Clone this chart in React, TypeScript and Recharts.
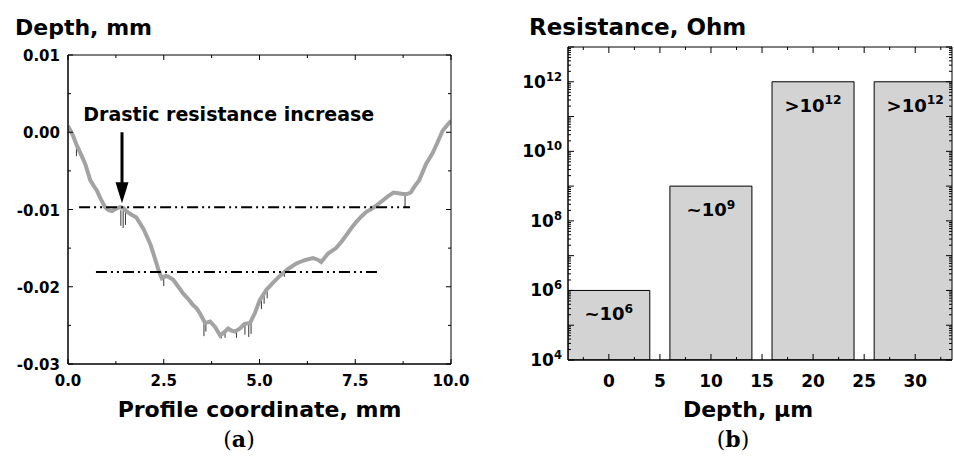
import React from 'react'
import {
  ComposedChart, Line, XAxis, YAxis, ReferenceLine, ReferenceDot, Bar, LabelList,
} from 'recharts'

// (a) surface profile (mm)
const profileX = [
  0, 0.12, 0.23, 0.35, 0.45, 0.58, 0.68, 0.76, 0.86, 0.97, 1.06, 1.15, 1.25, 1.36, 1.45,
  1.54, 1.67, 1.78, 1.88, 1.98, 2.06, 2.15, 2.23, 2.3, 2.36, 2.45, 2.55, 2.62, 2.75, 2.88,
  3.01, 3.14, 3.27, 3.36, 3.45, 3.58, 3.71, 3.84, 3.97, 4.05, 4.18, 4.28, 4.36, 4.49, 4.61,
  4.75, 4.88, 5.01, 5.18, 5.35, 5.53, 5.74, 5.96, 6.1, 6.22, 6.4, 6.52, 6.61, 6.79, 7.0,
  7.15, 7.27, 7.4, 7.53, 7.66, 7.79, 7.93, 8.05, 8.2, 8.35, 8.5, 8.62, 8.74, 8.85, 8.95,
  9.05, 9.17, 9.35, 9.52, 9.65, 9.78, 9.9, 10.0,
]
const profileDepth = [
  0.0008, -0.0003, -0.0017, -0.003, -0.0041, -0.0062, -0.007, -0.0076, -0.0087, -0.0097, -0.0101, -0.0102, -0.0099, -0.0097, -0.0098,
  -0.0103, -0.0107, -0.011, -0.0118, -0.0126, -0.0135, -0.0145, -0.0157, -0.0168, -0.0178, -0.0189, -0.0186, -0.0187, -0.0191, -0.02,
  -0.0209, -0.0216, -0.0224, -0.0228, -0.0235, -0.0247, -0.0245, -0.0252, -0.0263, -0.026, -0.0254, -0.0257, -0.0258, -0.0254, -0.0248,
  -0.0247, -0.0234, -0.0217, -0.0204, -0.0195, -0.0186, -0.0177, -0.017, -0.0167, -0.0165, -0.0163, -0.0165, -0.0168, -0.0157, -0.015,
  -0.0141, -0.0133, -0.0124, -0.0116, -0.0109, -0.0103, -0.0099, -0.0095, -0.0089, -0.0083, -0.0078, -0.0079, -0.008, -0.008, -0.0078,
  -0.007, -0.0062, -0.0041, -0.0027, -0.0013, 0.0002, 0.0009, 0.0015,
]

// raw-signal dropouts under the smoothed curve
const spikeX = [0.22, 1.38, 1.44, 1.5, 2.5, 3.2, 3.55, 3.6, 4.0, 4.1, 4.4, 4.62, 4.72, 4.78, 5.05, 5.12, 5.2, 5.65, 8.8]
const spikeTop = [-0.0016, -0.0101, -0.0101, -0.0103, -0.0188, -0.0216, -0.0244, -0.0245, -0.0262, -0.0259, -0.0257, -0.0248, -0.0247, -0.0246, -0.0213, -0.0208, -0.0203, -0.0181, -0.0081]
const spikeBottom = [-0.0031, -0.0121, -0.0124, -0.012, -0.0199, -0.0223, -0.0264, -0.0258, -0.0267, -0.0266, -0.0266, -0.0262, -0.0265, -0.0261, -0.0229, -0.0222, -0.0215, -0.0187, -0.0097]

const levelDepth = [-0.0097, -0.0181]
const levelFrom = [0.29, 0.73]
const levelTo = [8.93, 8.11]

const arrowX = 1.41
const arrowFrom = 0.0
const arrowTo = -0.0092
const noteX = 0.4
const noteY = 0.0015
const noteText = 'Drastic resistance increase'

const coordTicks = [0, 1.25, 2.5, 3.75, 5, 6.25, 7.5, 8.75, 10]
const depthMmTicks = [-0.03, -0.025, -0.02, -0.015, -0.01, -0.005, 0, 0.005, 0.01]

// (b) resistance vs depth
const barDepth = [0, 10, 20, 30]
const barResistance = [1e6, 1e9, 1e12, 1e12]
const barPrefix = ['~', '~', '>', '>']
const barExponent = ['6', '9', '12', '12']

const depthUmTicks = [-2.5, 0, 2.5, 5, 7.5, 10, 12.5, 15, 17.5, 20, 22.5, 25, 27.5, 30, 32.5]
const decadeExponents = [4, 5, 6, 7, 8, 9, 10, 11, 12, 13]

const profileRows = profileX.map((x, i) => ({ x, y: profileDepth[i] }))
const barRows = barDepth.map((d, i) => ({ depth: d, r: barResistance[i] }))

const resistanceTicks: number[] = []
decadeExponents.forEach((e) => {
  resistanceTicks.push(10 ** e)
  if (e < 13) for (let m = 2; m <= 9; m++) resistanceTicks.push(m * 10 ** e)
})

const SANS = '"DejaVu Sans", Arial, sans-serif'
const SERIF = '"DejaVu Serif", serif'

const isMultiple = (v: number, step: number) => Math.abs(v / step - Math.round(v / step)) < 1e-6
const isDecade = (v: number) => isMultiple(Math.log10(v), 1)

type Side = 'top' | 'bottom' | 'left' | 'right'

function makeTick(side: Side, lenOf: (v: number) => number, labelOf?: (x: number, y: number, v: number) => React.ReactNode) {
  return (props: any) => {
    const { x, y, payload } = props
    const v = payload.value
    const len = lenOf(v)
    const dx = side === 'left' ? len : side === 'right' ? -len : 0
    const dy = side === 'bottom' ? -len : side === 'top' ? len : 0
    return (
      <g>
        <line x1={x} y1={y} x2={x + dx} y2={y + dy} stroke="#000" strokeWidth={1} />
        {labelOf ? labelOf(x, y, v) : null}
      </g>
    )
  }
}

function Power({ x, y, prefix = '', exp, size, anchor }: any) {
  return (
    <text x={x} y={y} textAnchor={anchor} fontFamily={SANS} fontWeight="bold" fontSize={size} fill="#000">
      {prefix}10
      <tspan dy={-size * 0.42} fontSize={size * 0.68}>{exp}</tspan>
    </text>
  )
}

const axisLine = { stroke: '#000', strokeWidth: 1.5 }
const frameLine = { stroke: '#000', strokeWidth: 1 }

const Arrow = (p: any) => {
  const { x1, y1, x2, y2 } = p
  const head = 21
  return (
    <g>
      <line x1={x1} y1={y1} x2={x2} y2={y2 - head + 2} stroke="#000" strokeWidth={3} />
      <polygon points={`${x2},${y2} ${x2 - 6.5},${y2 - head} ${x2 + 6.5},${y2 - head}`} fill="#000" />
    </g>
  )
}

function ProfileChart() {
  const coordLen = (v: number) => (isMultiple(v, 2.5) ? 5 : 3)
  const depthLen = (v: number) => (isMultiple(v, 0.01) ? 5 : 3)
  return (
    <ComposedChart width={470} height={461} data={profileRows} margin={{ top: 54, right: 18, bottom: 67, left: 8 }}>
      <XAxis
        xAxisId="x" dataKey="x" type="number" domain={[0, 10]} ticks={coordTicks} interval={0}
        allowDataOverflow height={30} tickSize={0} tickMargin={0} tickLine={false} axisLine={axisLine}
        tick={makeTick('bottom', coordLen, (x, y, v) =>
          isMultiple(v, 2.5) ? (
            <text x={x} y={y + 22} textAnchor="middle" fontFamily={SANS} fontWeight="bold" fontSize={15}>{v.toFixed(1)}</text>
          ) : null)}
        label={{
          content: (p: any) => (
            <text x={p.viewBox.x + p.viewBox.width / 2} y={p.viewBox.y + 53} textAnchor="middle" fontFamily={SANS} fontWeight="bold" fontSize={22}>
              Profile coordinate, mm
            </text>
          ),
        }}
      />
      <XAxis
        xAxisId="xt" dataKey="x" orientation="top" type="number" domain={[0, 10]} ticks={coordTicks} interval={0}
        allowDataOverflow height={1} tickSize={0} tickMargin={0} tickLine={false}
        axisLine={frameLine} tick={makeTick('top', coordLen)}
      />
      <YAxis
        yAxisId="y" type="number" domain={[-0.03, 0.01]} ticks={depthMmTicks} interval={0}
        allowDataOverflow width={60} tickSize={0} tickMargin={0} tickLine={false} axisLine={axisLine}
        tick={makeTick('left', depthLen, (x, y, v) =>
          isMultiple(v, 0.01) ? (
            <text x={x - 8} y={y + 6} textAnchor="end" fontFamily={SANS} fontWeight="bold" fontSize={15}>{v.toFixed(2)}</text>
          ) : null)}
        label={{
          content: (p: any) => (
            <text x={p.viewBox.x + 7} y={p.viewBox.y - 20} fontFamily={SANS} fontWeight="bold" fontSize={22}>Depth, mm</text>
          ),
        }}
      />
      <YAxis
        yAxisId="yr" orientation="right" type="number" domain={[-0.03, 0.01]} ticks={depthMmTicks} interval={0}
        allowDataOverflow width={1} tickSize={0} tickMargin={0} tickLine={false}
        axisLine={frameLine} tick={makeTick('right', depthLen)}
      />
      {/* invisible twin so the frame axes have a series of their own */}
      <Line
        xAxisId="xt" yAxisId="yr" dataKey="y" stroke="none" strokeWidth={0}
        dot={false} activeDot={false} isAnimationActive={false}
      />
      {spikeX.map((x, i) => (
        <ReferenceLine
          key={'s' + i} xAxisId="x" yAxisId="y"
          segment={[{ x, y: spikeTop[i] }, { x, y: spikeBottom[i] }]}
          stroke="#000" strokeWidth={0.8}
        />
      ))}
      <Line
        xAxisId="x" yAxisId="y" dataKey="y" type="linear" stroke="#a3a3a3" strokeWidth={4}
        dot={false} activeDot={false} isAnimationActive={false}
      />
      {levelDepth.map((d, i) => (
        <ReferenceLine
          key={'l' + i} xAxisId="x" yAxisId="y"
          segment={[{ x: levelFrom[i], y: d }, { x: levelTo[i], y: d }]}
          stroke="#000" strokeWidth={2} strokeDasharray="11 4 2 4 2 4"
        />
      ))}
      <ReferenceLine
        xAxisId="x" yAxisId="y"
        segment={[{ x: arrowX, y: arrowFrom }, { x: arrowX, y: arrowTo }]}
        shape={Arrow}
      />
      <ReferenceDot
        xAxisId="x" yAxisId="y" x={noteX} y={noteY} r={0}
        shape={(p: any) => (
          <text x={p.cx} y={p.cy} fontFamily={SANS} fontWeight="bold" fontSize={19}>{noteText}</text>
        )}
      />
    </ComposedChart>
  )
}

function ResistanceChart() {
  const depthLen = (v: number) => (isMultiple(v, 5) ? 6 : 3)
  const resLen = (v: number) => (isDecade(v) ? 6 : 3)
  return (
    <ComposedChart width={484} height={461} data={barRows} margin={{ top: 46, right: 1, bottom: 71, left: 38 }}>
      <XAxis
        xAxisId="x" dataKey="depth" type="number" domain={[-4, 33.6]} ticks={depthUmTicks} interval={0}
        allowDataOverflow height={30} tickSize={0} tickMargin={0} tickLine={false} axisLine={axisLine}
        tick={makeTick('bottom', depthLen, (x, y, v) =>
          isMultiple(v, 5) ? (
            <text x={x} y={y + 27} textAnchor="middle" fontFamily={SANS} fontWeight="bold" fontSize={17}>{String(v)}</text>
          ) : null)}
        label={{
          content: (p: any) => (
            <text x={p.viewBox.x + p.viewBox.width / 2 - 12} y={p.viewBox.y + 57} textAnchor="middle" fontFamily={SANS} fontWeight="bold" fontSize={22}>
              Depth, μm
            </text>
          ),
        }}
      />
      <XAxis
        xAxisId="xt" dataKey="depth" orientation="top" type="number" domain={[-4, 33.6]} ticks={depthUmTicks} interval={0}
        allowDataOverflow height={1} tickSize={0} tickMargin={0} tickLine={false}
        axisLine={frameLine} tick={makeTick('top', depthLen)}
      />
      <YAxis
        yAxisId="y" scale="log" type="number" domain={[1e4, 1e13]} ticks={resistanceTicks} interval={0}
        allowDataOverflow width={60} tickSize={0} tickMargin={0} tickLine={false} axisLine={axisLine}
        tick={makeTick('left', resLen, (x, y, v) => {
          const e = Math.round(Math.log10(v))
          return isDecade(v) && e % 2 === 0 && e < 13 ? (
            <Power x={x - 6} y={y + 6} exp={String(e)} size={17} anchor="end" />
          ) : null
        })}
        label={{
          content: (p: any) => (
            <text x={p.viewBox.x + 21} y={p.viewBox.y - 12} fontFamily={SANS} fontWeight="bold" fontSize={23}>Resistance, Ohm</text>
          ),
        }}
      />
      <YAxis
        yAxisId="yr" orientation="right" scale="log" type="number" domain={[1e4, 1e13]} ticks={resistanceTicks} interval={0}
        allowDataOverflow width={1} tickSize={0} tickMargin={0} tickLine={false}
        axisLine={frameLine} tick={makeTick('right', resLen)}
      />
      <Bar
        xAxisId="x" yAxisId="y" dataKey="r" barSize={82} fill="#d3d3d3" stroke="#000" strokeWidth={1}
        isAnimationActive={false}
      >
        <LabelList
          dataKey="r"
          content={(p: any) => (
            <Power x={p.x + p.width / 2} y={p.y + 30} prefix={barPrefix[p.index]} exp={barExponent[p.index]} size={18} anchor="middle" />
          )}
        />
      </Bar>
      {/* invisible twin so the frame axes have a series of their own */}
      <Line
        xAxisId="xt" yAxisId="yr" dataKey="r" stroke="none" strokeWidth={0}
        dot={false} activeDot={false} isAnimationActive={false}
      />
    </ComposedChart>
  )
}

export default function App() {
  return (
    <div style={{ position: 'absolute', left: 0, top: 0, width: 954, height: 461, background: '#fff', overflow: 'hidden' }}>
      <div style={{ position: 'absolute', left: 0, top: 0 }}>
        <ProfileChart />
      </div>
      <div style={{ position: 'absolute', left: 470, top: 0 }}>
        <ResistanceChart />
      </div>
      <svg width={954} height={461} style={{ position: 'absolute', left: 0, top: 0, pointerEvents: 'none' }}>
        <text x={239} y={447} textAnchor="middle" fontFamily={SERIF} fontSize={22}>
          (<tspan fontWeight="bold">a</tspan>)
        </text>
        <text x={733} y={447} textAnchor="middle" fontFamily={SERIF} fontSize={22}>
          (<tspan fontWeight="bold">b</tspan>)
        </text>
      </svg>
    </div>
  )
}
